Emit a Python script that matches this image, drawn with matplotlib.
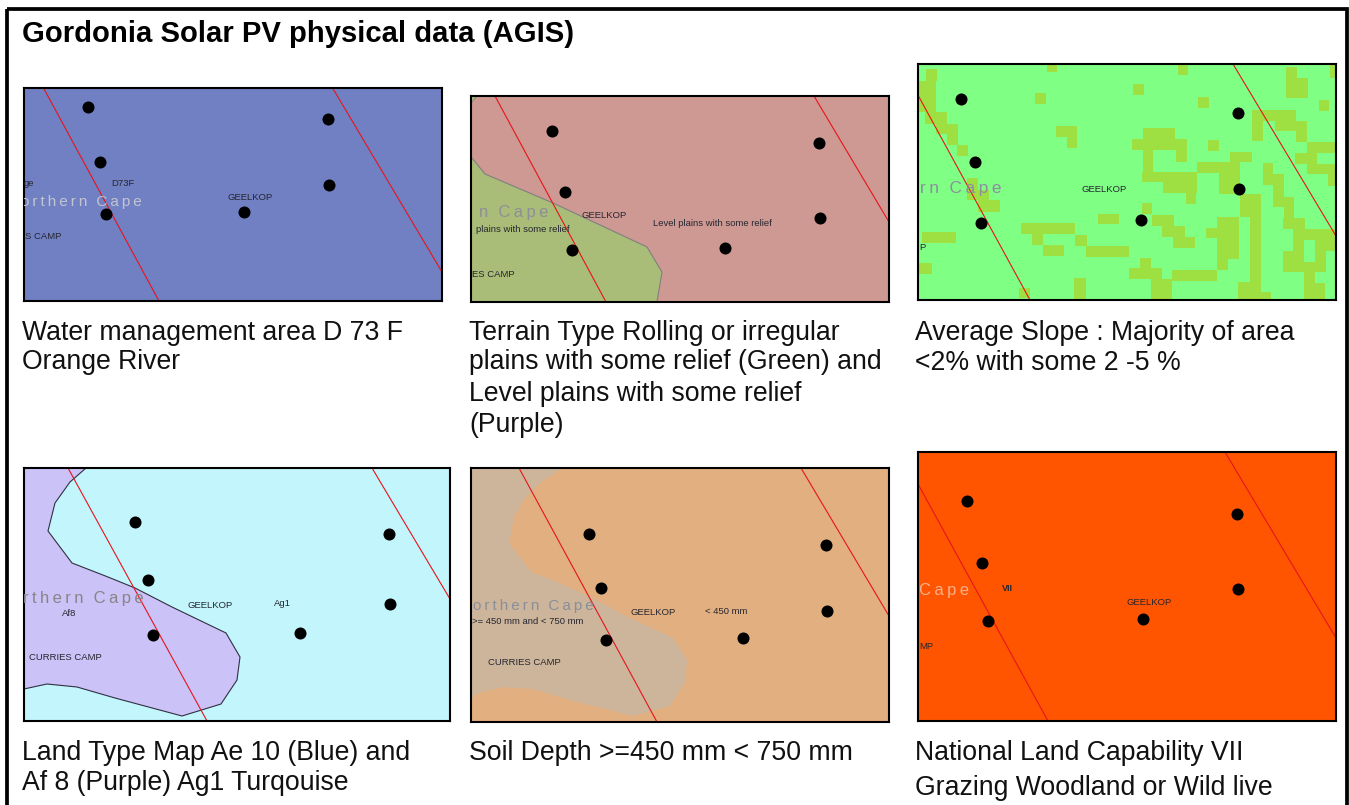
import matplotlib
matplotlib.use("Agg")
import matplotlib.pyplot as plt
from matplotlib.patches import Polygon, Rectangle

plt.rcParams['font.family'] = ['Liberation Sans', 'DejaVu Sans']

W, H = 1349, 805

title = "Gordonia Solar PV physical data (AGIS)"

# map frames in picture pixels: left, top, right, bottom
frames = [(24, 88, 442, 301), (471, 96, 889, 302), (918, 64, 1336, 300),
          (24, 468, 450, 721), (471, 468, 889, 722), (918, 452, 1336, 721)]
backgrounds = ['#7080C2', '#CD9992', '#80FF85', '#C3F5FC', '#E1AF80', '#FF5500']

# the six sites on each map
points = [
    [(88, 107), (100, 162), (106, 214), (244, 212), (328, 119), (329, 185)],
    [(552, 131), (565, 192), (572, 250), (725, 248), (819, 143), (820, 218)],
    [(961, 99), (975, 162), (981, 223), (1141, 220), (1238, 113), (1239, 189)],
    [(135, 522), (148, 580), (153, 635), (300, 633), (389, 534), (390, 604)],
    [(589, 534), (601, 588), (606, 640), (743, 638), (826, 545), (827, 611)],
    [(967, 501), (982, 563), (988, 621), (1143, 619), (1237, 514), (1238, 589)],
]

# red boundary lines on each map
red_lines = [
    [((43, 87), (159, 301)), ((332, 87), (442, 272))],
    [((495, 96), (606, 302)), ((814, 96), (889, 222))],
    [((919, 97), (1030, 300)), ((1233, 64), (1336, 236))],
    [((68, 468), (207, 721)), ((372, 468), (450, 599))],
    [((519, 468), (657, 722)), ((801, 468), (889, 616))],
    [((918, 484), (1048, 721)), ((1225, 452), (1336, 638))],
]

terrain_green = [(471, 157), (472, 158), (485, 174), (553, 203), (647, 247), (662, 272),
                 (657, 302), (471, 302)]
terrain_corner = [(471, 96), (477, 96), (471, 103)]
land_purple = [(24, 468), (86, 468), (70, 482), (55, 503), (48, 531), (72, 563), (108, 577),
               (135, 588), (172, 607), (226, 633), (240, 657), (237, 680), (221, 704),
               (182, 716), (115, 698), (77, 687), (47, 684), (24, 689)]
soil_tan = [(471, 468), (562, 468), (540, 483), (525, 498), (514, 517), (509, 543), (531, 572),
            (560, 583), (590, 597), (630, 618), (673, 638), (687, 660), (685, 682), (670, 706),
            (633, 716), (570, 700), (533, 689), (503, 687), (478, 693), (471, 700)]

# darker slope cells, x0 y0 x1 y1 as read on a 3x crop starting at (910, 55)
slope_cells = [
    (48, 42, 80, 78), (27, 78, 78, 172), (46, 172, 110, 207), (78, 207, 143, 238),
    (110, 238, 143, 270), (140, 270, 173, 303), (411, 30, 441, 50), (803, 30, 835, 60),
    (670, 88, 702, 120), (374, 115, 407, 148), (865, 125, 897, 158), (438, 213, 500, 245),
    (470, 245, 500, 280), (894, 255, 928, 288), (1128, 35, 1160, 68), (1128, 68, 1195, 130),
    (1260, 30, 1275, 68), (1227, 135, 1258, 167), (1027, 165, 1060, 258), (1060, 165, 1158, 197),
    (1095, 197, 1192, 228), (1158, 228, 1192, 262), (1190, 262, 1275, 295), (1155, 295, 1222, 326),
    (1190, 326, 1275, 358), (1255, 358, 1275, 392), (700, 220, 795, 252), (666, 252, 830, 284),
    (798, 284, 830, 320), (700, 284, 730, 350), (697, 350, 860, 382), (760, 382, 860, 415),
    (827, 415, 858, 447), (960, 290, 1027, 322), (862, 322, 990, 354), (926, 354, 990, 418),
    (990, 418, 1053, 485), (1020, 485, 1053, 710), (985, 680, 1050, 735), (1050, 712, 1082, 735),
    (1058, 325, 1090, 390), (1090, 358, 1122, 455), (1122, 425, 1152, 490), (1120, 490, 1185, 522),
    (1150, 522, 1275, 555), (1215, 555, 1275, 587), (1150, 555, 1182, 587), (1118, 587, 1183, 650),
    (1215, 587, 1248, 620), (1183, 620, 1248, 650), (1182, 650, 1215, 735), (1215, 685, 1245, 735),
    (170, 370, 205, 435), (205, 405, 237, 435), (205, 435, 270, 470), (565, 476, 627, 508),
    (697, 445, 727, 478), (727, 480, 793, 513), (757, 513, 825, 545), (790, 545, 855, 578),
    (333, 503, 496, 537), (365, 537, 398, 570), (496, 540, 530, 572), (398, 570, 462, 602),
    (527, 573, 658, 605), (37, 532, 137, 563), (27, 625, 67, 658), (922, 485, 988, 518),
    (888, 518, 988, 550), (922, 550, 988, 612), (922, 612, 953, 645), (690, 608, 723, 640),
    (658, 640, 755, 672), (723, 672, 787, 735), (787, 645, 920, 677), (492, 668, 527, 735),
    (327, 700, 360, 730),
]

# grey province name as far as each map shows it, with right end and y
province_names = ["o r t h e r n   C a p e", "n   C a p e", "r n   C a p e",
                  "r t h e r n   C a p e", "o r t h e r n   C a p e", "C a p e"]
province_pos = [(142, 202), (548, 212), (1001, 189), (144, 598), (594, 606), (969, 590)]
province_colors = ['#C2C4D0', '#8E8E98', '#8E8EA0', '#8A8488', '#8A8E98', '#F5B08C']
province_sizes = [11, 12, 12.5, 12, 11, 12]

# small map labels: x, y, text, align
map_labels = [
    [(24, 183, "ge", 'left'), (123, 183, "D73F", 'center'), (250, 197, "GEELKOP", 'center'),
     (25, 236, "S CAMP", 'left')],
    [(604, 215, "GEELKOP", 'center'), (712, 223, "Level plains with some relief", 'center'),
     (476, 229, "plains with some relief", 'left'),
     (472, 274, "ES CAMP", 'left')],
    [(1104, 190, "GEELKOP", 'center'), (919, 247, "P", 'left')],
    [(210, 605, "GEELKOP", 'center'), (282, 604, "Ag1", 'center'), (69, 614, "Af8", 'center'),
     (65, 658, "CURRIES CAMP", 'center')],
    [(653, 612, "GEELKOP", 'center'), (726, 611, "< 450 mm", 'center'),
     (528, 621, ">= 450 mm and < 750 mm", 'center'), (524, 662, "CURRIES CAMP", 'center')],
    [(1149, 602, "GEELKOP", 'center'), (919, 646, "MP", 'left')],
]

# captions: x, y, text
captions = [
    (22, 332, "Water management area D 73 F"), (22, 361, "Orange River"),
    (469, 332, "Terrain Type Rolling or irregular"), (469, 361, "plains with some relief (Green) and"),
    (469, 393, "Level plains with some relief"), (469, 424, "(Purple)"),
    (915, 332, "Average Slope : Majority of area"), (915, 362, "<2% with some 2 -5 %"),
    (22, 752, "Land Type Map Ae 10 (Blue) and"), (22, 782, "Af 8 (Purple) Ag1 Turqouise"),
    (469, 752, "Soil Depth >=450 mm < 750 mm"),
    (915, 752, "National Land Capability VII"), (915, 787, "Grazing Woodland or Wild live"),
]

fig = plt.figure(figsize=(W / 100, H / 100), dpi=100, facecolor='white')

# page layer in pixel coordinates for the frame, title and captions
page = fig.add_axes([0, 0, 1, 1])
page.set_xlim(0, W)
page.set_ylim(H, 0)
page.axis('off')
page.add_patch(Rectangle((6.5, 9), 1347 - 6.5, H, fill=False, ec='black', lw=2.7))
page.text(22, 34, title, fontsize=21.1, fontweight='bold', va='center', ha='left')
for x, y, txt in captions:
    page.text(x, y + 1, txt, fontsize=19.2, va='center', ha='left', color='#111111')


def draw_map(i):
    l, t, r, b = frames[i]
    ax = fig.add_axes([l / W, 1 - b / H, (r - l) / W, (b - t) / H], facecolor=backgrounds[i])
    ax.set_xlim(l, r)
    ax.set_ylim(b, t)
    ax.set_xticks([])
    ax.set_yticks([])
    for s in ax.spines.values():
        s.set_linewidth(1.5)
        s.set_color('black')
    return ax


axes = [draw_map(i) for i in range(6)]

axes[1].add_patch(Polygon(terrain_green, fc='#A9BD78', ec='#808080', lw=0.8))
axes[1].add_patch(Polygon(terrain_corner, fc='#A9BD78', ec='#808080', lw=0.6))
for x0, y0, x1, y1 in slope_cells:
    axes[2].add_patch(Rectangle((910 + x0 / 3, 55 + y0 / 3), (x1 - x0) / 3, (y1 - y0) / 3,
                                fc='#9EDF41', ec='none'))
axes[3].add_patch(Polygon(land_purple, fc='#CBC2F8', ec='#303040', lw=0.8))
axes[4].add_patch(Polygon(soil_tan, fc='#CDB59C', ec='none'))

for i, ax in enumerate(axes):
    for (x0, y0), (x1, y1) in red_lines[i]:
        ax.plot([x0, x1], [y0, y1], color='#E8141C', lw=0.8)
    ax.scatter([p[0] for p in points[i]], [p[1] for p in points[i]], s=75, color='black',
               zorder=5, linewidths=0)
    px, py = province_pos[i]
    ax.text(px, py, province_names[i].replace(" ", "\u2009"), fontsize=province_sizes[i],
            color=province_colors[i], ha='right', va='center', clip_on=True)
    for lx, ly, txt, align in map_labels[i]:
        ax.text(lx, ly, txt, fontsize=6.8, color='#262630', ha=align, va='center', clip_on=True)

axes[5].text(1007, 588, "VII", fontsize=6.5, fontweight='bold', color='#262630', ha='center', va='center')

fig.savefig("out.png", dpi=100)
